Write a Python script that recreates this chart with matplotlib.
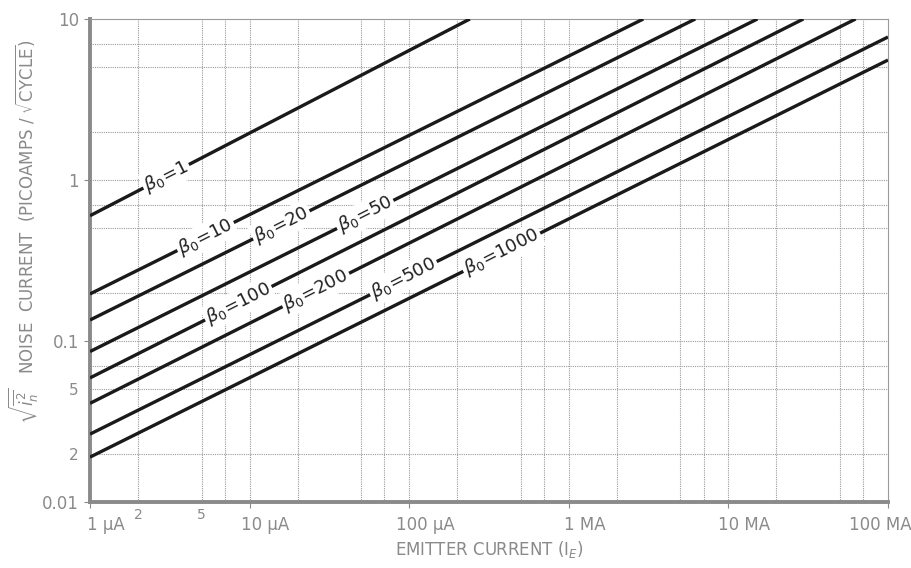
import numpy as np
import matplotlib
matplotlib.use('Agg')
import matplotlib.pyplot as plt
from matplotlib.ticker import FixedLocator
from matplotlib.transforms import ScaledTranslation

plt.rcParams['font.family'] = ['DejaVu Sans']
plt.rcParams['mathtext.fontset'] = 'dejavusans'

# current gain of each curve
betas = [1, 10, 20, 50, 100, 200, 500, 1000]
# emitter current (A) at the two ends of each straight line
x_start = [1e-6, 1e-6, 1e-6, 1e-6, 1e-6, 1e-6, 1e-6, 1e-6]
x_end = [2.4e-4, 2.93e-3, 6.2e-3, 1.52e-2, 2.95e-2, 6.27e-2, 1e-1, 1e-1]
# noise current (pA/sqrt(Hz)) at those ends
y_start = [0.6, 0.196, 0.135, 0.086, 0.059, 0.041, 0.0264, 0.019]
y_end = [10, 10, 10, 10, 10, 10, 7.73, 5.56]
# where the label sits along each line (A)
label_x = [3.0e-6, 5.3e-6, 1.58e-5, 5.3e-5, 8.5e-6, 2.6e-5, 9.2e-5, 3.8e-4]

x_major = [1e-6, 1e-5, 1e-4, 1e-3, 1e-2, 1e-1]
x_major_labels = ['1 µA', '10 µA', '100 µA', '1 MA', '10 MA', '100 MA']
y_major = [0.01, 0.1, 1, 10]
y_major_labels = ['0.01', '0.1', '1', '10']

grey = '#8a8a8a'

fig = plt.figure(figsize=(9.12, 5.68), dpi=100)
ax = fig.add_axes([90 / 912, 66 / 568, 798 / 912, 483 / 568])
ax.set_xscale('log')
ax.set_yscale('log')
ax.set_xlim(1e-6, 1e-1)
ax.set_ylim(0.01, 10)

# grid at 1, 2, 5, 7 of every decade
gx = [m * 10.0 ** e for e in range(-6, -1) for m in (1, 2, 5, 7)] + [1e-1]
gy = [m * 10.0 ** e for e in range(-2, 1) for m in (1, 2, 5, 7)] + [10]
for v in gx[1:-1]:
    ax.axvline(v, color='#9a9a9a', lw=0.8, ls=(0, (1, 1)), zorder=1)
for v in gy[1:-1]:
    ax.axhline(v, color='#9a9a9a', lw=0.8, ls=(0, (1, 1)), zorder=1)

for sp in ['left', 'bottom']:
    ax.spines[sp].set_color('#8a8a8a')
    ax.spines[sp].set_linewidth(2.8)
for sp in ['top', 'right']:
    ax.spines[sp].set_color('#9a9a9a')
    ax.spines[sp].set_linewidth(0.8)
    ax.spines[sp].set_linestyle((0, (1, 1)))

for b, x0, x1, y0, y1 in zip(betas, x_start, x_end, y_start, y_end):
    ax.plot([x0, x1], [y0, y1], color='#1a1a1a', lw=2.4, solid_capstyle='butt', zorder=3)

# slope angle on screen
p0 = ax.transData.transform((1e-6, 0.1))
p1 = ax.transData.transform((1e-4, 1.0))
ang = np.degrees(np.arctan2(p1[1] - p0[1], p1[0] - p0[0]))

for b, x0, x1, y0, y1, lx in zip(betas, x_start, x_end, y_start, y_end, label_x):
    k = np.log10(y1 / y0) / np.log10(x1 / x0)
    ly = y0 * (lx / x0) ** k
    ax.text(lx, ly, r'$\beta_0$=' + str(b), rotation=ang, rotation_mode='anchor',
            ha='center', va='center', fontsize=13, color='#222222', zorder=4,
            bbox=dict(fc='white', ec='none', pad=1.5))

# ticks
ax.xaxis.set_major_locator(FixedLocator(x_major))
ax.set_xticklabels(x_major_labels)
ax.xaxis.set_minor_locator(FixedLocator([2e-6, 5e-6]))
ax.set_xticklabels(['2', '5'], minor=True)
ax.yaxis.set_major_locator(FixedLocator(y_major))
ax.set_yticklabels(y_major_labels)
ax.yaxis.set_minor_locator(FixedLocator([0.02, 0.05]))
ax.set_yticklabels(['2', '5'], minor=True)
ax.tick_params(axis='both', which='both', colors=grey, labelcolor=grey, length=4, width=0.8)
ax.tick_params(axis='x', which='major', labelsize=12, pad=6)
ax.tick_params(axis='x', which='minor', labelsize=10, pad=4, length=0)
ax.tick_params(axis='y', which='major', labelsize=12, pad=4)
ax.tick_params(axis='y', which='minor', labelsize=11, pad=8, length=0)

labs = ax.get_xticklabels()
for i, t in enumerate(labs):
    dx = 16 if i < len(labs) - 1 else -8
    t.set_transform(t.get_transform() + ScaledTranslation(dx / 100, 0, fig.dpi_scale_trans))

ax.set_xlabel(r'EMITTER CURRENT (I$_E$)', fontsize=12, color=grey, labelpad=4)
ax.set_ylabel(r'$\sqrt{\overline{i_n^2}}$   NOISE  CURRENT  (PICOAMPS / $\sqrt{\mathrm{CYCLE}}$)',
              fontsize=12, color=grey)
ax.yaxis.set_label_coords(-0.062, 0.56)

fig.savefig('out.png', dpi=100)
